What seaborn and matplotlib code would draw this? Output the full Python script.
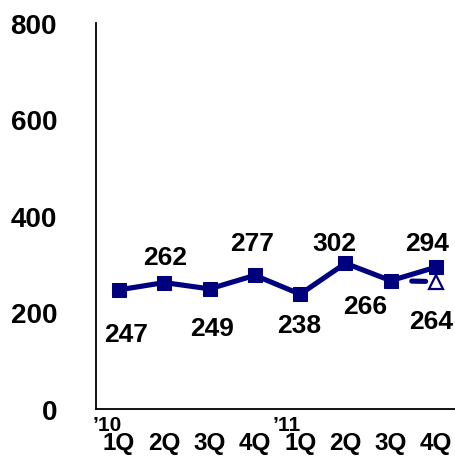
import matplotlib
matplotlib.use("Agg")
import matplotlib.pyplot as plt
import matplotlib.transforms as mtransforms
import seaborn as sns
import pandas as pd

# Quarterly values
quarters = ["1Q", "2Q", "3Q", "4Q", "1Q", "2Q", "3Q", "4Q"]
values = [247, 262, 249, 277, 238, 302, 266, 294]
# Plan figure for the last quarter
plan_value = 264
years = ["\u201910", "\u201911"]
y_ticks = [0, 200, 400, 600, 800]

# Label placement (pixel offsets of each label baseline from its point)
label_offsets = [(7, -51), (1, 19), (2, -46), (-3, 25), (-1, -38),
                 (-11, 13), (-26, -32), (-9, 17)]
plan_offset = (-5, -46)

sns.set_theme(style="white")
plt.rcParams["font.family"] = ["Liberation Sans", "DejaVu Sans"]
plt.rcParams["lines.scale_dashes"] = False
plt.rcParams["text.color"] = "black"

navy = "#00007f"
fig = plt.figure(figsize=(4.56, 4.60), dpi=100)
ax = fig.add_axes([96 / 456, 50 / 460, 360 / 456, 386 / 460])

df = pd.DataFrame({"idx": range(len(values)), "value": values})
sns.lineplot(data=df, x="idx", y="value", ax=ax, color=navy, linewidth=3.7,
             marker="s", markersize=10.5, markeredgecolor=navy, markerfacecolor=navy,
             zorder=3)

# Dashed link from the actual 3Q to the planned 4Q value
ax.plot([6, 7], [values[6], plan_value], color=navy, linewidth=3.7,
        linestyle=(39.6, (10.0, 44.7)), dash_capstyle="round", zorder=2)
ax.plot([7], [plan_value], marker="^", markersize=10, markerfacecolor="white",
        markeredgecolor=navy, markeredgewidth=1.6, linestyle="none", zorder=4)

# Value labels
for i, (v, (dx, dy)) in enumerate(zip(values, label_offsets)):
    ax.annotate(str(v), (i, v), xytext=(dx, dy), textcoords="offset pixels",
                ha="center", va="baseline", fontsize=19, fontweight="bold",
                color="black")
ax.annotate(str(plan_value), (7, plan_value), xytext=plan_offset,
            textcoords="offset pixels", ha="center", va="baseline",
            fontsize=19, fontweight="bold", color="black")

ax.set_xlim(-0.508, 7.44)
ax.set_ylim(0, 800)
ax.set_yticks(y_ticks)
ax.set_yticklabels([str(t) for t in y_ticks], fontsize=20, fontweight="bold",
                   color="black")
ax.set_xticks(range(len(quarters)))
ax.set_xticklabels(quarters, fontsize=17.5, fontweight="bold", color="black")
ax.tick_params(axis="y", length=0, pad=28)
ax.tick_params(axis="x", length=0, pad=16)
ax.set_xlabel("")
ax.set_ylabel("")

# Year markers sit just under the axis line, left of the first quarter
trans = mtransforms.blended_transform_factory(ax.transData, ax.transAxes)
drop = mtransforms.ScaledTranslation(0, -21 / 100, fig.dpi_scale_trans)
for xpos, label in zip([-0.595, 3.39], years):
    ax.text(xpos, 0, label, transform=trans + drop, ha="left", va="baseline",
            fontsize=15, fontweight="bold", color="black")

for side in ["top", "right"]:
    ax.spines[side].set_visible(False)
for side in ["left", "bottom"]:
    ax.spines[side].set_color("black")
    ax.spines[side].set_linewidth(1.3)

fig.savefig("out.png", dpi=100)
